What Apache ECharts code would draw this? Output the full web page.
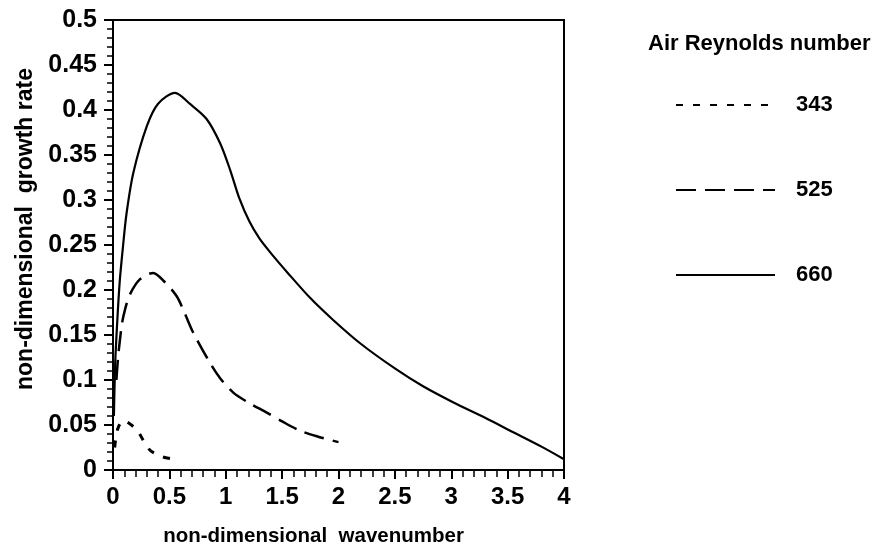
<!DOCTYPE html>
<html>
<head>
<meta charset="utf-8">
<script src="https://cdn.jsdelivr.net/npm/echarts@6/dist/echarts.min.js"></script>
<style>html,body{margin:0;padding:0;background:#fff}#c{width:880px;height:552px}</style>
</head>
<body>
<div id="c"></div>
<script>
const seriesNames = ['343', '525', '660'];
const legendTitle = 'Air Reynolds number';
const xName = 'non-dimensional  wavenumber';
const yName = 'non-dimensional  growth rate';

const x343 = [0.015, 0.04, 0.09, 0.13, 0.215, 0.32, 0.43, 0.535, 0.59];
const y343 = [0.025, 0.045, 0.055, 0.053, 0.044, 0.023, 0.015, 0.012, 0.011];

const x525 = [0.03, 0.045, 0.062, 0.08, 0.106, 0.15, 0.24, 0.357, 0.45, 0.565, 0.64, 0.71, 0.86, 0.95, 1.067, 1.2, 1.36, 1.5, 1.66, 1.82, 2.0];
const y525 = [0.1, 0.125, 0.145, 0.163, 0.178, 0.195, 0.212, 0.219, 0.21, 0.193, 0.173, 0.153, 0.119, 0.102, 0.086, 0.075, 0.064, 0.054, 0.0436, 0.037, 0.031];

const x660 = [0.008, 0.02, 0.04, 0.06, 0.09, 0.12, 0.18, 0.3, 0.4, 0.55, 0.68, 0.83, 0.95, 1.04, 1.12, 1.21, 1.3, 1.4, 1.55, 1.75, 1.95, 2.2, 2.51, 2.75, 3.02, 3.3, 3.55, 3.8, 4.0];
const y660 = [0.06, 0.12, 0.17, 0.21, 0.25, 0.285, 0.33, 0.382, 0.407, 0.419, 0.407, 0.39, 0.363, 0.333, 0.302, 0.276, 0.257, 0.241, 0.219, 0.191, 0.167, 0.14, 0.112, 0.093, 0.075, 0.058, 0.042, 0.026, 0.012];

const xTicks = [0, 0.5, 1, 1.5, 2, 2.5, 3, 3.5, 4];
const yTicks = [0, 0.05, 0.1, 0.15, 0.2, 0.25, 0.3, 0.35, 0.4, 0.45, 0.5];

function pairs(xs, ys) { return xs.map((x, i) => [x, ys[i]]); }

const FONT = '"Liberation Sans", Arial, sans-serif';
const chart = echarts.init(document.getElementById('c'));
chart.setOption({
  animation: false,
  backgroundColor: '#fff',
  textStyle: { fontFamily: FONT, color: '#000' },
  title: {
    text: legendTitle, left: 648, top: 33, padding: 0,
    textStyle: { fontFamily: FONT, fontSize: 22, fontWeight: 'bold', color: '#000' }
  },
  legend: {
    orient: 'vertical', left: 675, top: 94, padding: 0,
    itemWidth: 99, itemHeight: 14, itemGap: 63,
    data: seriesNames,
    itemStyle: { opacity: 0 },
    textStyle: { fontFamily: FONT, fontSize: 22, fontWeight: 'bold', color: '#000', padding: [0, 0, 0, 16] }
  },
  grid: {
    left: 113, right: 316, top: 20, bottom: 81,
    show: true, borderColor: '#000', borderWidth: 2, backgroundColor: 'transparent'
  },
  xAxis: {
    type: 'value', min: xTicks[0], max: xTicks[xTicks.length - 1], interval: 0.5,
    name: xName, nameLocation: 'middle', nameGap: 56,
    nameTextStyle: { fontFamily: FONT, fontSize: 20.5, fontWeight: 'bold', color: '#000', padding: [0, 50, 0, 0] },
    axisLine: { show: true, lineStyle: { color: '#000', width: 2 } },
    axisTick: { show: true, length: 9, lineStyle: { color: '#000', width: 2 } },
    minorTick: { show: true, splitNumber: 5, length: 7, lineStyle: { color: '#000', width: 1.5 } },
    splitLine: { show: false },
    axisLabel: { fontFamily: FONT, fontSize: 24, fontWeight: 'bold', color: '#000', margin: 15,
      formatter: v => String(v) }
  },
  yAxis: {
    type: 'value', min: yTicks[0], max: yTicks[yTicks.length - 1], interval: 0.05,
    name: yName, nameLocation: 'middle', nameGap: 74, nameRotate: 90,
    nameTextStyle: { fontFamily: FONT, fontSize: 23, fontWeight: 'bold', color: '#000', padding: [0, 0, 0, 32] },
    axisLine: { show: true, lineStyle: { color: '#000', width: 2 } },
    axisTick: { show: true, length: 9, lineStyle: { color: '#000', width: 2 } },
    minorTick: { show: true, splitNumber: 5, length: 6, lineStyle: { color: '#000', width: 1.5 } },
    splitLine: { show: false },
    axisLabel: { fontFamily: FONT, fontSize: 25, fontWeight: 'bold', color: '#000', margin: 16,
      formatter: v => String(Math.round(v * 100) / 100) }
  },
  series: [
    { name: seriesNames[0], type: 'line', data: pairs(x343, y343), smooth: 0.3, symbol: 'none',
      lineStyle: { color: '#000', width: 3, type: [7, 10] }, itemStyle: { color: '#000' } },
    { name: seriesNames[1], type: 'line', data: pairs(x525, y525), smooth: 0.3, symbol: 'none',
      lineStyle: { color: '#000', width: 2.5, type: [20, 9] }, itemStyle: { color: '#000' } },
    { name: seriesNames[2], type: 'line', data: pairs(x660, y660), smooth: 0.3, symbol: 'none',
      lineStyle: { color: '#000', width: 2.2, type: 'solid' }, itemStyle: { color: '#000' } }
  ]
});
</script>
</body>
</html>
